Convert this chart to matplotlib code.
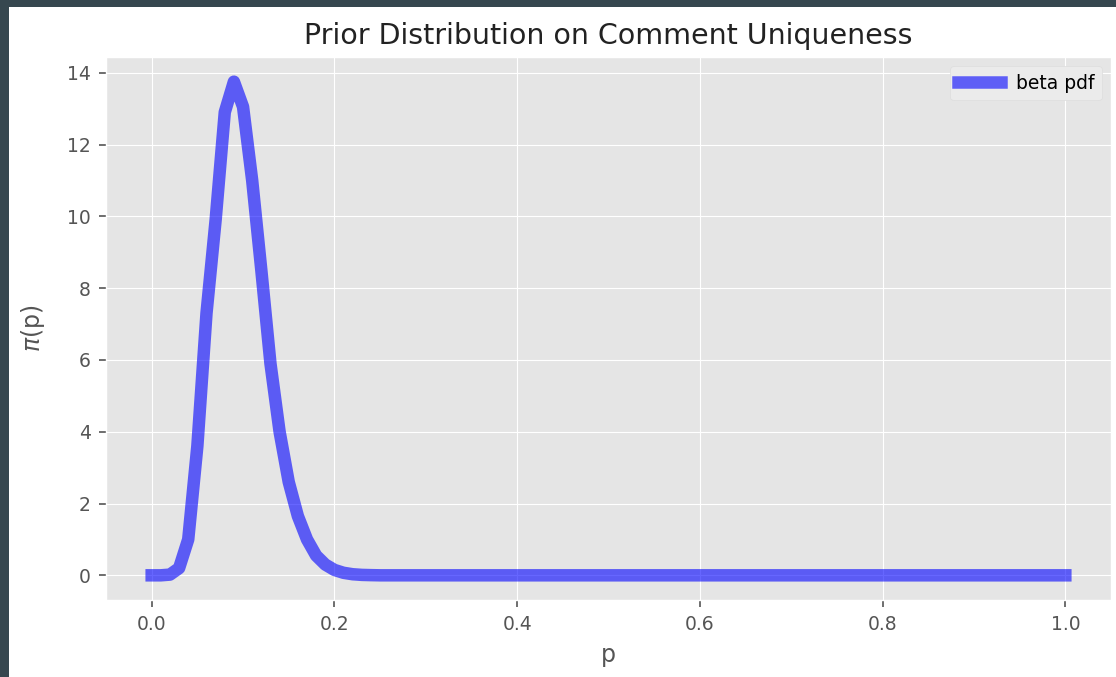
import matplotlib
matplotlib.use('Agg')
import matplotlib.pyplot as plt
from matplotlib.patches import Rectangle

# beta prior pdf (p step 0.01, flat zero after ~0.25)
p = [0.00, 0.01, 0.02, 0.03, 0.04, 0.05, 0.06, 0.07, 0.08, 0.09,
     0.10, 0.11, 0.12, 0.13, 0.14, 0.15, 0.16, 0.17, 0.18, 0.19,
     0.20, 0.21, 0.22, 0.23, 0.24, 0.25, 1.00]
density = [0.0, 0.0, 0.02, 0.2, 1.0, 3.6, 7.3, 9.9, 12.9, 13.75,
           13.05, 11.0, 8.5, 5.9, 4.0, 2.6, 1.65, 1.0, 0.55, 0.3,
           0.15, 0.07, 0.03, 0.012, 0.005, 0.0, 0.0]

plt.style.use('ggplot')
plt.rcParams['font.size'] = 13.5

fig = plt.figure(figsize=(11.16, 6.77), dpi=100)
fig.patch.set_facecolor('#36474f')
# white page with the dark frame on the top and left edges
fig.add_artist(Rectangle((9 / 1116, 0), 1, (677 - 7) / 677, transform=fig.transFigure,
                         facecolor='white', edgecolor='none', zorder=-1))

ax = fig.add_axes([106 / 1116, 1 - 600 / 677, (1111 - 106) / 1116, (600 - 57) / 677])
ax.plot(p, density, 'b-', lw=9, alpha=0.6, label='beta pdf')
ax.set_title('Prior Distribution on Comment Uniqueness', fontsize=20.5, color='#222222', pad=9)
ax.set_xlabel('p', fontsize=17, labelpad=6, color='#555555')
ax.set_ylabel(r'$\pi$(p)', fontsize=17, labelpad=14, color='#555555')
ax.set_yticks(range(0, 15, 2))
ax.tick_params(colors='#555555', direction='out', length=5, width=1.2, pad=6)
leg = ax.legend(loc='upper right', fontsize=13.5, handlelength=2.3,
                facecolor='#ebebeb', edgecolor='#dddddd', framealpha=1)

fig.savefig('out.png', dpi=100, facecolor=fig.get_facecolor())
